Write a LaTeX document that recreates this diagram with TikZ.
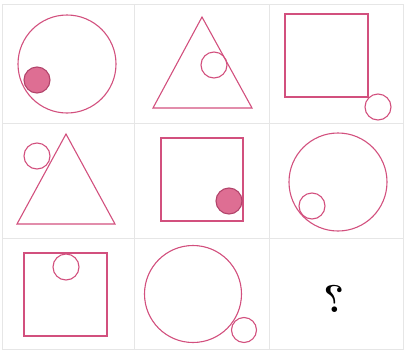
\documentclass[tikz,border=0pt]{standalone}
\usepackage{graphicx}
\definecolor{shape}{HTML}{D2507E}
\definecolor{dotfill}{HTML}{DE6E93}
\definecolor{gridc}{HTML}{E6E6E6}
\begin{document}
\begin{tikzpicture}[x=1bp,y=-1bp,
  gridline/.style={draw=gridc,line width=0.9bp},
  outl/.style={draw=shape,line width=1.1bp},
  dotc/.style={draw=shape!85!black,fill=dotfill,line width=1.1bp}]
\useasboundingbox (0,0) rectangle (405,352);
% grid
\draw[gridline] (2,4) rectangle (403,349);
\draw[gridline] (134,4) -- (134,349);
\draw[gridline] (269,4) -- (269,349);
\draw[gridline] (2,123) -- (403,123);
\draw[gridline] (2,238) -- (403,238);
% cell 1
\draw[outl] (67,64) circle (49);
\draw[dotc] (37,80) circle (13);
% cell 2
\draw[outl] (202,17) -- (252,108) -- (153,108) -- cycle;
\draw[outl] (214,65) circle (13);
% cell 3
\draw[outl] (285,14) rectangle (368,97);
\draw[outl] (378,107) circle (13);
% cell 4
\draw[outl] (66,134) -- (115,224) -- (17,224) -- cycle;
\draw[outl] (37,156) circle (13);
% cell 5
\draw[outl] (161,138) rectangle (243,221);
\draw[dotc] (229,201) circle (13);
% cell 6
\draw[outl] (338,182) circle (49);
\draw[outl] (312,206) circle (13);
% cell 7
\draw[outl] (24,253) rectangle (107,336);
\draw[outl] (66,267) circle (13);
% cell 8
\draw[outl] (193,294) circle (48.5);
\draw[outl] (244,330) circle (12.5);
% cell 9
\node (q) at (334,299) {\fontsize{39}{39}\selectfont\bfseries\reflectbox{?}};
\end{tikzpicture}
\end{document}
